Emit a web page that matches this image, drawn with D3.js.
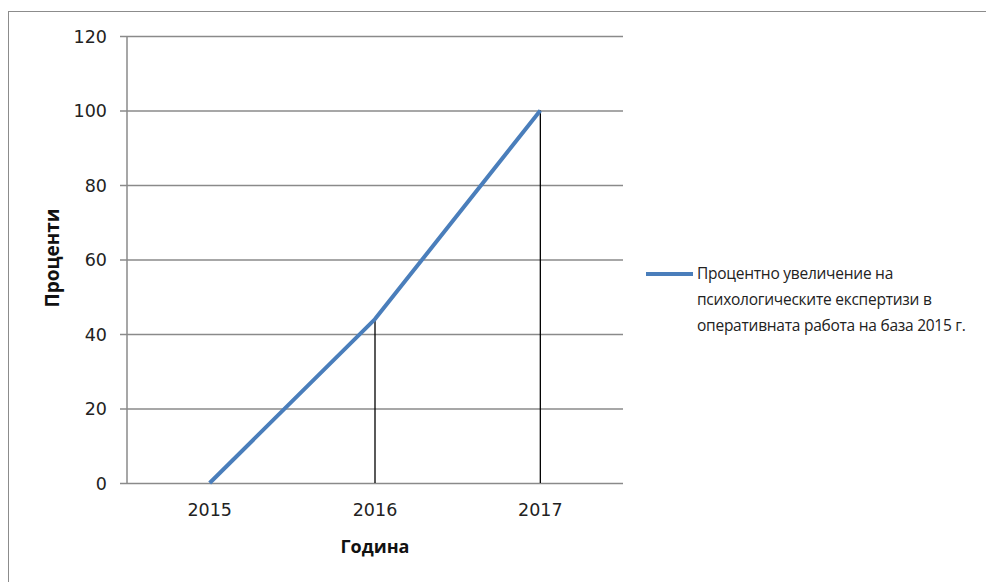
<!DOCTYPE html>
<html>
<head>
<meta charset="utf-8">
<script src="https://cdn.jsdelivr.net/npm/d3@7"></script>
<style>
  body { margin: 0; background: #fff; }
  svg { display: block; font-family: "Open Sans", sans-serif; }
</style>
</head>
<body>
<svg id="chart" width="986" height="582"></svg>
<script>
const years = ["2015", "2016", "2017"];
const percents = [0, 44, 100];
const yTicks = [0, 20, 40, 60, 80, 100, 120];
const legendLines = [
    "Процентно увеличение на",
    "психологическите експертизи в",
    "оперативната работа на база 2015 г."
];

const svg = d3.select("#chart");
const plot = {left: 127, right: 623, top: 36, bottom: 483};

// outer frame (right/bottom edges fall outside the view)
svg.append("rect")
    .attr("x", 8.5).attr("y", 11.5).attr("width", 1000).attr("height", 600)
    .attr("fill", "none").attr("stroke", "#8c8c8c").attr("stroke-width", 1);

const x = d3.scaleBand().domain(years).range([plot.left, plot.right]);
const y = d3.scaleLinear().domain([0, 120]).range([plot.bottom, plot.top]);

// grid lines + y ticks
const yAxis = d3.axisLeft(y).tickValues(yTicks).tickSize(plot.right - plot.left + 7)
    .tickSizeOuter(0).tickPadding(13);
const gy = svg.append("g").attr("transform", `translate(${plot.right},0)`).call(yAxis);
gy.select(".domain").remove();
gy.selectAll(".tick line").attr("stroke", "#8a8a8a").attr("stroke-width", 1.5);
gy.selectAll(".tick text").attr("font-size", 17.5).attr("fill", "#222")
    .attr("font-family", "DejaVu Sans").attr("dy", "0.36em");

svg.append("line")
    .attr("x1", plot.left).attr("x2", plot.left)
    .attr("y1", plot.top).attr("y2", plot.bottom)
    .attr("stroke", "#8a8a8a").attr("stroke-width", 1.5);

// x labels
const xAxis = d3.axisBottom(x).tickSize(0).tickPadding(21);
const gx = svg.append("g").attr("transform", `translate(0,${plot.bottom})`).call(xAxis);
gx.select(".domain").remove();
gx.selectAll(".tick text").attr("font-size", 17.5).attr("fill", "#222").attr("font-family", "DejaVu Sans");

const cx = d => x(d) + x.bandwidth() / 2;
const pts = years.map((yr, i) => ({yr, v: percents[i]}));

// drop lines
svg.append("g").selectAll("line").data(pts.filter(d => d.v > 0)).join("line")
    .attr("x1", d => cx(d.yr)).attr("x2", d => cx(d.yr))
    .attr("y1", d => y(d.v)).attr("y2", y(0))
    .attr("stroke", "#000").attr("stroke-width", 1.3);

// series line
svg.append("path").datum(pts)
    .attr("d", d3.line().x(d => cx(d.yr)).y(d => y(d.v)))
    .attr("fill", "none").attr("stroke", "#4a7ebb").attr("stroke-width", 4)
    .attr("stroke-linejoin", "round");

// axis titles
svg.append("text")
    .attr("transform", "translate(59,258) rotate(-90)")
    .attr("text-anchor", "middle").attr("font-size", 19).attr("font-weight", "bold")
    .attr("fill", "#111").text("Проценти");
svg.append("text")
    .attr("x", cx("2016")).attr("y", 553)
    .attr("text-anchor", "middle").attr("font-size", 18).attr("font-weight", "bold")
    .attr("fill", "#111").text("Година");

// legend
const lg = svg.append("g").attr("transform", "translate(646,274)");
lg.append("line").attr("x1", 0).attr("x2", 47).attr("y1", 0).attr("y2", 0)
    .attr("stroke", "#4a7ebb").attr("stroke-width", 4);
lg.selectAll("text").data(legendLines).join("text")
    .attr("x", 51).attr("y", (d, i) => 5 + i * 26)
    .attr("font-size", 15.5).attr("fill", "#222").attr("letter-spacing", -0.25)
    .text(d => d);
</script>
</body>
</html>
